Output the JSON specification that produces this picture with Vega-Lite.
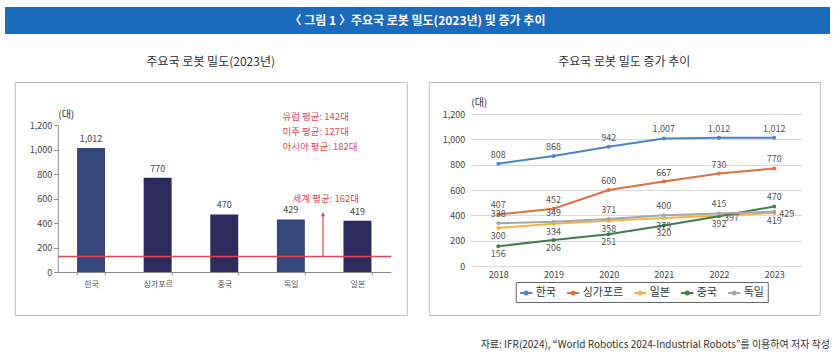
{
  "$schema": "https://vega.github.io/schema/vega-lite/v6.json",
  "background": "white",
  "padding": {"left": 5, "top": 7, "right": 5, "bottom": 5},
  "config": {"font": "Noto Sans CJK KR", "view": {"stroke": null}},
  "datasets": {
    "bars": [
      {"country": "한국", "density": 1012},
      {"country": "싱가포르", "density": 770},
      {"country": "중국", "density": 470},
      {"country": "독일", "density": 429},
      {"country": "일본", "density": 419}
    ],
    "trend": [
      {"country": "한국", "year": 2018, "value": 808},
      {"country": "한국", "year": 2019, "value": 868},
      {"country": "한국", "year": 2020, "value": 942},
      {"country": "한국", "year": 2021, "value": 1007},
      {"country": "한국", "year": 2022, "value": 1012},
      {"country": "한국", "year": 2023, "value": 1012},
      {"country": "싱가포르", "year": 2018, "value": 407},
      {"country": "싱가포르", "year": 2019, "value": 452},
      {"country": "싱가포르", "year": 2020, "value": 600},
      {"country": "싱가포르", "year": 2021, "value": 667},
      {"country": "싱가포르", "year": 2022, "value": 730},
      {"country": "싱가포르", "year": 2023, "value": 770},
      {"country": "일본", "year": 2018, "value": 300},
      {"country": "일본", "year": 2019, "value": 334},
      {"country": "일본", "year": 2020, "value": 358},
      {"country": "일본", "year": 2021, "value": 379},
      {"country": "일본", "year": 2022, "value": 397},
      {"country": "일본", "year": 2023, "value": 419},
      {"country": "중국", "year": 2018, "value": 156},
      {"country": "중국", "year": 2019, "value": 206},
      {"country": "중국", "year": 2020, "value": 251},
      {"country": "중국", "year": 2021, "value": 320},
      {"country": "중국", "year": 2022, "value": 392},
      {"country": "중국", "year": 2023, "value": 470},
      {"country": "독일", "year": 2018, "value": 338},
      {"country": "독일", "year": 2019, "value": 349},
      {"country": "독일", "year": 2020, "value": 371},
      {"country": "독일", "year": 2021, "value": 400},
      {"country": "독일", "year": 2022, "value": 415},
      {"country": "독일", "year": 2023, "value": 429}
    ]
  },
  "title": {
    "text": "자료: IFR(2024), \u201cWorld Robotics 2024-Industrial Robots\u201d를 이용하여 저자 작성",
    "orient": "bottom", "anchor": "end", "fontSize": 10, "fontWeight": "normal",
    "color": "#333333", "offset": 24
  },
  "center": true,
  "spacing": 21,
  "vconcat": [
    {
      "width": 825, "height": 27,
      "view": {"fill": "#1b6bbd", "stroke": null},
      "data": {"values": [{"t": "〈 그림 1 〉주요국 로봇 밀도(2023년) 및 증가 추이"}]},
      "mark": {"type": "text", "color": "white", "fontSize": 12, "fontWeight": "bold"},
      "encoding": {"text": {"field": "t", "type": "nominal"}}
    },
    {
      "spacing": 20,
      "resolve": {"scale": {"color": "independent"}},
      "hconcat": [
        {
          "width": 392, "height": 233,
          "view": {"stroke": "#bdbdbd", "strokeWidth": 1},
          "title": {"text": "주요국 로봇 밀도(2023년)", "fontSize": 12, "fontWeight": "normal", "color": "#333333", "offset": 13},
          "encoding": {
            "x": {
              "field": "country", "type": "nominal", "sort": null,
              "scale": {"range": [43, 376], "paddingInner": 0.58, "paddingOuter": 0.29},
              "axis": {"title": null, "labelAngle": 0, "labelFontSize": 8, "labelColor": "#555555",
                       "domainColor": "#8c8c8c", "tickColor": "#8c8c8c", "tickSize": 3, "tickBand": "extent",
                       "labelPadding": 5, "offset": -43}
            },
            "y": {
              "type": "quantitative",
              "scale": {"domain": [0, 1200], "range": [190, 43], "nice": false},
              "axis": {
                "title": "(대)", "titleAngle": 0, "titleX": 8, "titleY": 32, "titleAlign": "center",
                "titleBaseline": "middle", "titleFontSize": 10, "titleFontWeight": "normal", "titleColor": "#333333",
                "values": [0, 130, 200, 400, 600, 800, 1000, 1200],
                "labelFontSize": 9, "labelColor": "#444444", "domainColor": "#8c8c8c", "tickColor": "#8c8c8c",
                "tickSize": 4, "labelPadding": 2, "offset": -43, "format": ",.0f",
                "grid": true, "gridColor": "#dc4a5a", "gridWidth": 1.5,
                "gridOpacity": {"condition": {"test": "datum.value === 130", "value": 1}, "value": 0},
                "tickOpacity": {"condition": {"test": "datum.value === 130", "value": 0}, "value": 1},
                "labelExpr": "datum.value === 130 ? '' : datum.label",
                "zindex": 1
              }
            }
          },
          "layer": [
            {
              "data": {"name": "bars"},
              "mark": {"type": "bar"},
              "encoding": {
                "y": {"field": "density", "type": "quantitative"},
                "color": {"field": "country", "type": "nominal", "legend": null,
                          "scale": {"domain": ["한국", "싱가포르", "중국", "독일", "일본"],
                                    "range": ["#34467a", "#2c2b5c", "#2c2b5c", "#34467a", "#2c2b5c"]}}
              }
            },
            {
              "data": {"name": "bars"},
              "mark": {"type": "text", "baseline": "bottom", "dy": -4, "fontSize": 9, "color": "#444444"},
              "encoding": {
                "y": {"field": "density", "type": "quantitative"},
                "text": {"field": "density", "type": "quantitative", "format": ","}
              }
            },
            {
              "data": {"values": [{}]},
              "mark": {"type": "rule", "color": "#dc4a5a", "strokeWidth": 1.2},
              "encoding": {
                "x": {"datum": "독일", "type": "nominal", "bandPosition": 1.65},
                "y": {"datum": 130, "type": "quantitative"},
                "y2": {"datum": 470}
              }
            },
            {
              "data": {"values": [{}]},
              "mark": {"type": "point", "shape": "triangle-up", "filled": true, "size": 22, "color": "#dc4a5a", "opacity": 1},
              "encoding": {
                "x": {"datum": "독일", "type": "nominal", "bandPosition": 1.65},
                "y": {"datum": 472, "type": "quantitative"}
              }
            },
            {
              "data": {"values": [{}]},
              "mark": {"type": "text", "fontSize": 9.5, "color": "#dc4a5a", "baseline": "middle"},
              "encoding": {
                "x": {"datum": "독일", "type": "nominal", "bandPosition": 1.75},
                "y": {"datum": 597, "type": "quantitative"},
                "text": {"value": "세계 평균: 162대"}
              }
            },
            {
              "data": {"values": [{}]},
              "mark": {"type": "text", "fontSize": 9.5, "color": "#dc4a5a", "baseline": "top", "align": "left", "lineHeight": 15},
              "encoding": {
                "x": {"datum": "독일", "type": "nominal", "bandPosition": 0.2},
                "y": {"datum": 1305, "type": "quantitative"},
                "text": {"value": ["유럽 평균: 142대", "미주 평균: 127대", "아시아 평균: 182대"]}
              }
            }
          ]
        },
        {
          "width": 391, "height": 233,
          "view": {"stroke": "#bdbdbd", "strokeWidth": 1},
          "title": {"text": "주요국 로봇 밀도 증가 추이", "fontSize": 12, "fontWeight": "normal", "color": "#333333", "offset": 13},
          "encoding": {
            "x": {
              "field": "year", "type": "quantitative",
              "scale": {"domain": [2017.5, 2023.5], "range": [42, 373], "nice": false, "zero": false},
              "axis": {
                "title": null, "values": [2018, 2019, 2020, 2021, 2022, 2023],
                "format": "d", "labelOverlap": false, "labelSeparation": 0,
                "grid": false, "ticks": false, "domain": false, "labelFontSize": 9, "labelColor": "#444444",
                "labelPadding": 4, "offset": -49
              }
            },
            "y": {
              "field": "value", "type": "quantitative",
              "scale": {"domain": [0, 1200], "range": [184, 32], "nice": false},
              "axis": {
                "title": "(대)", "titleAngle": 0, "titleX": 8, "titleY": 20, "titleAlign": "center",
                "titleBaseline": "middle", "titleFontSize": 10, "titleFontWeight": "normal", "titleColor": "#333333",
                "values": [0, 200, 400, 600, 800, 1000, 1200], "format": ",.0f",
                "grid": true, "gridColor": "#d9d9d9", "domain": false, "ticks": false,
                "labelPadding": 6, "labelFontSize": 9, "labelColor": "#444444", "offset": -42
              }
            }
          },
          "layer": [
            {
              "data": {"values": [{"edge": 2017.5}, {"edge": 2023.5}]},
              "mark": {"type": "rule", "color": "#d9d9d9", "strokeWidth": 1},
              "encoding": {
                "x": {"field": "edge", "type": "quantitative"},
                "y": {"datum": 0, "type": "quantitative"},
                "y2": {"datum": 1200}
              }
            },
            {
              "data": {"name": "trend"},
              "mark": {"type": "line", "strokeWidth": 2, "point": {"filled": true, "size": 16}},
              "encoding": {
                "color": {
                  "field": "country", "type": "nominal",
                  "scale": {"domain": ["한국", "싱가포르", "일본", "중국", "독일"],
                            "range": ["#4a86c5", "#e07040", "#f0b44a", "#3f7d4a", "#a6a6a6"]},
                  "legend": {
                    "orient": "none", "legendX": 87, "legendY": 200, "direction": "horizontal",
                    "title": null, "strokeColor": "#666666", "padding": 3,
                    "labelFontSize": 11, "labelColor": "#333333", "labelOffset": 2,
                    "symbolType": "M-1,0L1,0M-0.25,0A0.25,0.25,0,1,0,0.25,0A0.25,0.25,0,1,0,-0.25,0",
                    "symbolSize": 150, "symbolStrokeWidth": 2, "columnPadding": 6
                  }
                }
              }
            },
            {
              "data": {"name": "trend"},
              "transform": [{"filter": "datum.country == '한국' || datum.country == '싱가포르' || (datum.country == '독일' && datum.year < 2023) || (datum.country == '중국' && datum.year == 2023)"}],
              "mark": {"type": "text", "baseline": "bottom", "dy": -4, "fontSize": 9, "color": "#555555"},
              "encoding": {"text": {"field": "value", "type": "quantitative", "format": ","}}
            },
            {
              "data": {"name": "trend"},
              "transform": [{"filter": "(datum.country == '일본' && datum.year != 2022) || (datum.country == '중국' && datum.year < 2023)"}],
              "mark": {"type": "text", "baseline": "top", "dy": 4, "fontSize": 9, "color": "#555555"},
              "encoding": {"text": {"field": "value", "type": "quantitative", "format": ","}}
            },
            {
              "data": {"name": "trend"},
              "transform": [{"filter": "(datum.country == '독일' && datum.year == 2023) || (datum.country == '일본' && datum.year == 2022)"}],
              "mark": {"type": "text", "baseline": "middle", "align": "left", "dx": 5, "dy": 2, "fontSize": 9, "color": "#555555"},
              "encoding": {"text": {"field": "value", "type": "quantitative", "format": ","}}
            }
          ]
        }
      ]
    }
  ]
}
